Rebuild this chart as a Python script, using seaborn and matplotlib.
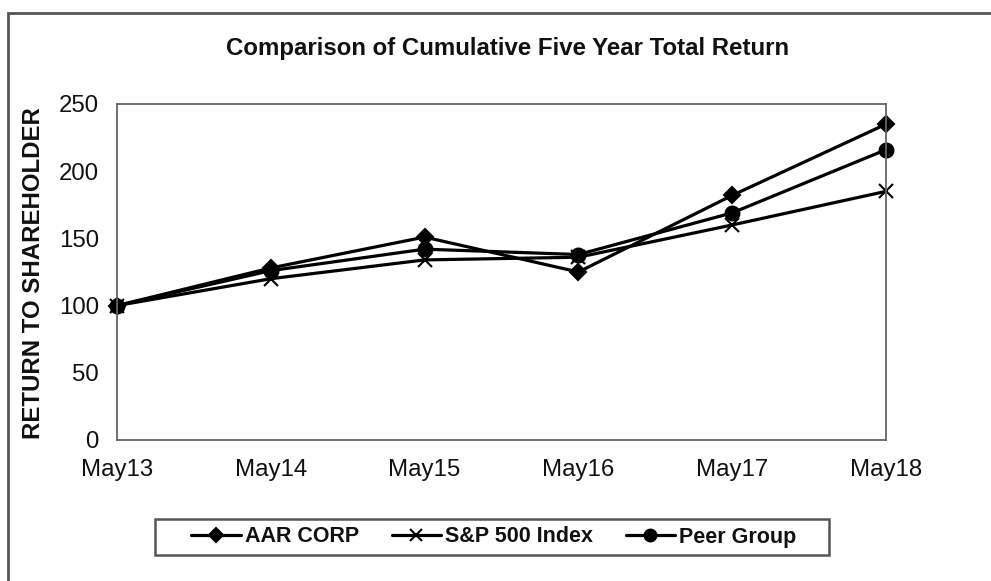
import matplotlib
matplotlib.use("Agg")
import matplotlib.pyplot as plt
import seaborn as sns
import pandas as pd
from matplotlib.patches import Rectangle
from matplotlib.lines import Line2D

periods = ["May13", "May14", "May15", "May16", "May17", "May18"]
aar = [100, 128, 151, 125, 182, 235]
sp500 = [100, 120, 134, 136, 160, 185]
peer = [100, 126, 142, 138, 169, 216]
series_names = ["AAR CORP", "S&P 500 Index", "Peer Group"]
yticks = [0, 50, 100, 150, 200, 250]

sns.set_theme(style="white")
plt.rcParams["font.family"] = ["Liberation Sans", "DejaVu Sans"]

fig = plt.figure(figsize=(9.91, 5.81), dpi=100)
ax = fig.add_axes([117/991, 1-440/581, (886-117)/991, (440-104)/581])

markers = {"AAR CORP": "D", "S&P 500 Index": "x", "Peer Group": "o"}
msizes = {"AAR CORP": 8, "S&P 500 Index": 10, "Peer Group": 10}
for name, vals in zip(series_names, [aar, sp500, peer]):
    d = pd.DataFrame({"period": periods, "value": vals})
    sns.lineplot(data=d, x="period", y="value", color="black", lw=2.3,
                 marker=markers[name], markersize=msizes[name],
                 markeredgewidth=1.5, markeredgecolor="black",
                 ax=ax, sort=False, clip_on=False)

ax.set_xlim(0, 5)
ax.set_ylim(0, 250)
ax.set_yticks(yticks)
ax.set_xticks(range(len(periods)))
ax.set_xticklabels(periods)
ax.set_xlabel("")
ax.set_ylabel("")
for s in ax.spines.values():
    s.set_color("#666666")
    s.set_linewidth(1.3)
    s.set_visible(True)
ax.tick_params(axis="both", which="major", direction="out", length=6, width=1.3,
               color="#666666", labelsize=17.3, labelcolor="#111111")
ax.tick_params(axis="y", pad=7)
ax.tick_params(axis="x", pad=8)

fig.text(508/991, 1-48/581, "Comparison of Cumulative Five Year Total Return",
         ha="center", va="center", fontsize=17.3, fontweight="bold", color="#111111")
fig.text(34/991, 1-273/581, "RETURN TO SHAREHOLDER", rotation=90,
         ha="center", va="center", fontsize=17.3, fontweight="bold", color="#111111")

handles = [Line2D([], [], color="black", lw=2.3, marker=markers[n],
                  markersize=msizes[n]*0.85, markeredgewidth=1.5) for n in series_names]
leg = fig.legend(handles, series_names, loc="center", bbox_to_anchor=(494/991, 1-537/581),
                 ncol=3, frameon=False,
                 handlelength=2.3, handletextpad=0.2, columnspacing=1.5,
                 borderpad=0.3, prop={"weight": "bold", "size": 15.5})
for t in leg.get_texts():
    t.set_color("#111111")

fig.patches.append(Rectangle((155/991, 1-555/581), (829-155)/991, 36/581,
                             transform=fig.transFigure, fill=False,
                             edgecolor="#555555", lw=1.8, figure=fig))
fig.patches.append(Rectangle((8/991, -0.1), 1.2, 1.1 - 13/581, transform=fig.transFigure,
                             fill=False, edgecolor="#555555", lw=2, figure=fig))

fig.savefig("out.png", dpi=100, facecolor="white")
